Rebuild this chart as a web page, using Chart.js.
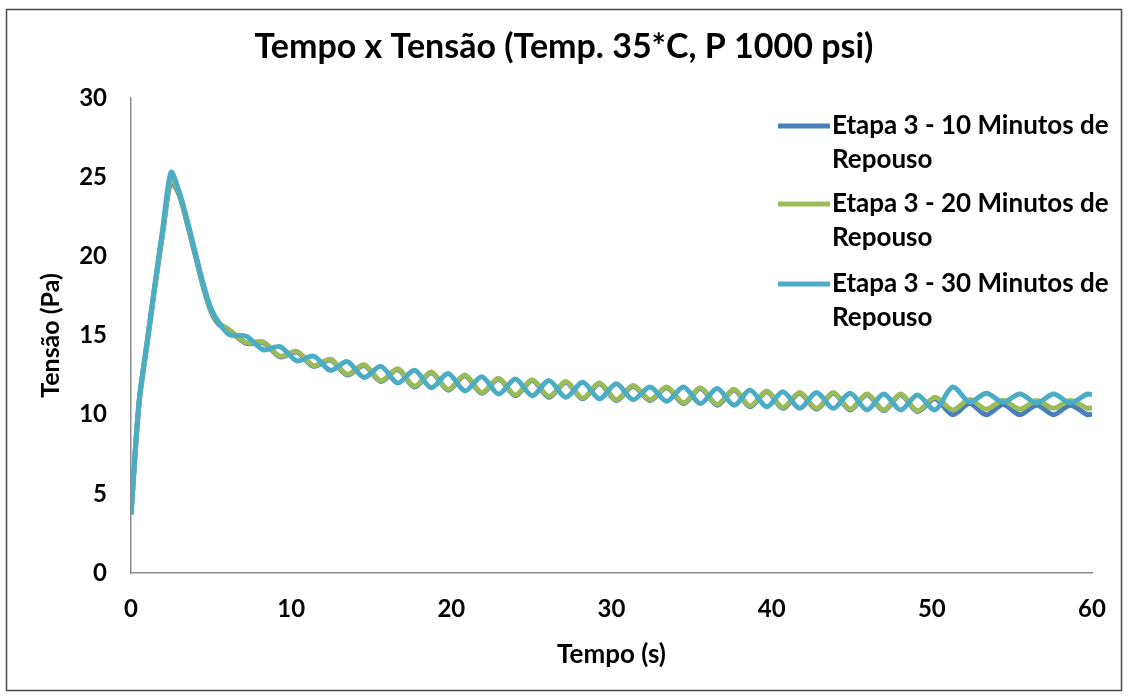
<!DOCTYPE html>
<html>
<head>
<meta charset="utf-8">
<script src="https://cdn.jsdelivr.net/npm/chart.js@4.4.1/dist/chart.umd.min.js"></script>
<style>
  html, body { margin: 0; padding: 0; background: #fff; }
  #wrap { position: relative; width: 1129px; height: 696px; }
</style>
</head>
<body>
<div id="wrap"><canvas id="grafico_tensao"></canvas></div>
<script>
// tempo (s) at each reading
const tempo = [
  0, 0.5, 1, 1.5, 2, 2.5, 3, 3.5, 4, 4.5, 5, 5.5,
  6.15, 7.2, 8.25, 9.3, 10.35, 11.4, 12.45, 13.5, 14.55, 15.6,
  16.65, 17.7, 18.75, 19.8, 20.85, 21.9, 22.95, 24.0, 25.05, 26.1,
  27.15, 28.2, 29.25, 30.3, 31.35, 32.4, 33.45, 34.5, 35.55, 36.6,
  37.65, 38.65, 39.7, 40.7, 41.75, 42.8, 43.85, 44.9, 45.95, 47.0,
  48.05, 49.1, 50.2, 51.3, 52.35, 53.4, 54.45, 55.5, 56.55, 57.6,
  58.65, 59.7, 60.0
];

// tensão (Pa) for each rest time
const repouso10 = [
  3.7, 10.7, 14.4, 18.1, 21.6, 24.7, 23.9, 22.1, 20.1, 18.1, 16.5, 15.7,
  15.3, 14.5, 14.55, 13.65, 13.95, 13.05, 13.45, 12.5, 13.1, 12.1,
  12.85, 11.75, 12.65, 11.55, 12.45, 11.35, 12.25, 11.2, 12.15, 11.1,
  12.05, 11.0, 11.95, 10.9, 11.8, 10.9, 11.7, 10.7, 11.65, 10.6,
  11.55, 10.5, 11.45, 10.4, 11.35, 10.35, 11.35, 10.3, 11.25, 10.25,
  11.25, 10.2, 11.0, 10.0, 10.7, 10.0, 10.65, 10.0, 10.6, 10.0,
  10.6, 10.0, 10.05
];
const repouso20 = [
  3.7, 10.7, 14.5, 18.2, 21.7, 24.9, 24.0, 22.2, 20.2, 18.2, 16.6, 15.8,
  15.35, 14.55, 14.6, 13.7, 14.0, 13.1, 13.5, 12.55, 13.15, 12.15,
  12.9, 11.8, 12.7, 11.6, 12.5, 11.4, 12.3, 11.25, 12.2, 11.15,
  12.1, 11.05, 12.0, 10.95, 11.85, 10.95, 11.75, 10.75, 11.7, 10.65,
  11.6, 10.55, 11.5, 10.45, 11.4, 10.4, 11.4, 10.35, 11.3, 10.3,
  11.3, 10.25, 11.1, 10.3, 10.95, 10.35, 10.9, 10.35, 10.9, 10.4,
  10.9, 10.4, 10.45
];
const repouso30 = [
  3.7, 10.8, 14.6, 18.3, 21.9, 25.3, 24.1, 22.3, 20.3, 18.3, 16.7, 15.8,
  15.05, 14.95, 14.1, 14.3, 13.4, 13.7, 12.8, 13.35, 12.35, 13.05,
  12.0, 12.8, 11.7, 12.6, 11.5, 12.4, 11.3, 12.25, 11.2, 12.15,
  11.1, 12.05, 11.0, 11.95, 10.95, 11.75, 10.85, 11.75, 10.7, 11.65,
  10.6, 11.55, 10.5, 11.45, 10.4, 11.4, 10.4, 11.35, 10.3, 11.3,
  10.3, 11.25, 10.3, 11.75, 10.8, 11.35, 10.8, 11.3, 10.75, 11.3,
  10.75, 11.3, 11.25
];

const legendas = [
  ["Etapa 3 - 10 Minutos de", "Repouso"],
  ["Etapa 3 - 20 Minutos de", "Repouso"],
  ["Etapa 3 - 30 Minutos de", "Repouso"],
];
const cores = ["#4a7ebb", "#9bbb59", "#4bacc6"];
const ticksTempo = [0, 10, 20, 30, 40, 50, 60];
const ticksTensao = [0, 5, 10, 15, 20, 25, 30];

const fonte = "Lato, 'Open Sans', sans-serif";
const toPoints = (ys) => ys.map((y, i) => ({ x: tempo[i], y }));

// outer frame around the whole chart
const moldura = {
  id: "moldura",
  afterDraw(chart) {
    const { ctx } = chart;
    ctx.save();
    ctx.strokeStyle = "#4a4a4a";
    ctx.lineWidth = 1.5;
    ctx.strokeRect(6.5, 9.5, 1115, 681);
    ctx.restore();
  },
};

// legend with wrapped labels, drawn over the top right of the plot
const legendaRepouso = {
  id: "legendaRepouso",
  afterDraw(chart) {
    const { ctx } = chart;
    const rows = [126, 204, 284];
    ctx.save();
    ctx.font = `bold 26px ${fonte}`;
    ctx.textBaseline = "middle";
    ctx.fillStyle = "#000";
    legendas.forEach((linhas, i) => {
      const y = rows[i];
      ctx.strokeStyle = cores[i];
      ctx.lineWidth = 5;
      ctx.beginPath();
      ctx.moveTo(778, y);
      ctx.lineTo(830, y);
      ctx.stroke();
      linhas.forEach((txt, j) => ctx.fillText(txt, 832, y + j * 34));
    });
    ctx.restore();
  },
};

// later series sit on top (lower order is drawn last)
const serie = (i, ys) => ({
  label: legendas[i].join(" "),
  data: toPoints(ys),
  borderColor: cores[i],
  borderWidth: 5,
  pointRadius: 0,
  tension: 0.3,
  fill: false,
  order: 2 - i,
});

new Chart(document.getElementById("grafico_tensao"), {
  type: "line",
  data: {
    datasets: [serie(0, repouso10), serie(1, repouso20), serie(2, repouso30)],
  },
  options: {
    responsive: true,
    maintainAspectRatio: false,
    animation: false,
    layout: { padding: { left: 36, right: 37, top: 0, bottom: 10 } },
    plugins: {
      legend: { display: false },
      tooltip: { enabled: false },
      title: {
        display: true,
        text: "Tempo x Tensão (Temp. 35*C, P 1000 psi)",
        color: "#000",
        font: { family: fonte, size: 34, weight: "bold" },
        padding: { top: 26.6, bottom: 30.6 },
      },
    },
    scales: {
      x: {
        type: "linear",
        min: 0,
        max: 60,
        afterBuildTicks: (scale) => {
          scale.ticks = ticksTempo.map((v) => ({ value: v }));
        },
        afterFit: (scale) => {
          scale.height = 113;
        },
        grid: { display: false, drawTicks: false },
        border: { display: true, color: "#8c8c8c", width: 1.5 },
        ticks: { color: "#000", padding: 21.6, font: { family: fonte, size: 24, weight: "bold" } },
        title: {
          display: true,
          text: "Tempo (s)",
          color: "#000",
          font: { family: fonte, size: 26, weight: "bold" },
          padding: { top: 0, bottom: 15.4 },
        },
      },
      y: {
        type: "linear",
        min: 0,
        max: 30,
        afterBuildTicks: (scale) => {
          scale.ticks = ticksTensao.map((v) => ({ value: v }));
        },
        afterFit: (scale) => {
          scale.width = 95;
        },
        grid: { display: false, drawTicks: false },
        border: { display: true, color: "#8c8c8c", width: 1.5 },
        ticks: { color: "#000", padding: 24, font: { family: fonte, size: 24, weight: "bold" } },
        title: {
          display: true,
          text: "Tensão (Pa)",
          color: "#000",
          font: { family: fonte, size: 25, weight: "bold" },
          padding: { top: 0, bottom: 0 },
        },
      },
    },
  },
  plugins: [moldura, legendaRepouso],
});
</script>
</body>
</html>
